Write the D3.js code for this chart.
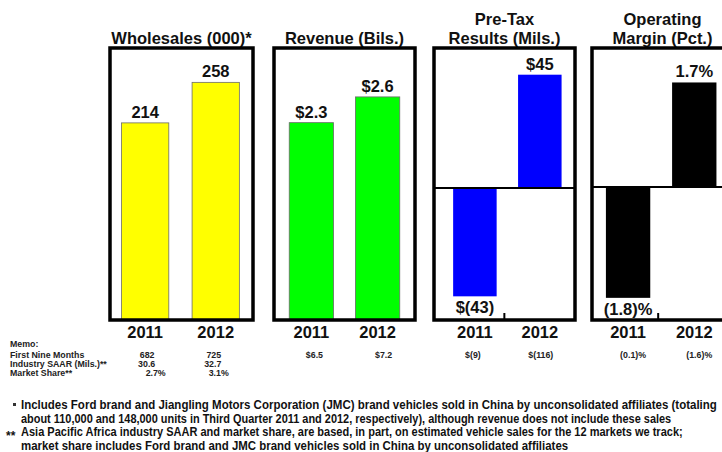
<!DOCTYPE html>
<html>
<head>
<meta charset="utf-8">
<script src="https://cdn.jsdelivr.net/npm/d3@7"></script>
<style>
  html, body { margin: 0; padding: 0; background: #fff; }
  svg { display: block; font-family: "Liberation Sans", Arial, sans-serif; }
</style>
</head>
<body>
<svg id="chart" width="722" height="452"></svg>
<script>
// ---------- data ----------
const years = ["2011", "2012"];

const wholesales = [214, 258];
const revenue = [2.3, 2.6];
const pretax = [-43, 45];
const margin = [-1.8, 1.7];

const wholesalesLabels = ["214", "258"];
const revenueLabels = ["$2.3", "$2.6"];
const pretaxLabels = ["$(43)", "$45"];
const marginLabels = ["(1.8)%", "1.7%"];

const titleWholesales = ["Wholesales (000)*"];
const titleRevenue = ["Revenue (Bils.)"];
const titlePretax = ["Pre-Tax", "Results (Mils.)"];
const titleMargin = ["Operating", "Margin (Pct.)"];

const memoRowLabels = ["First Nine Months", "Industry SAAR (Mils.)**", "Market Share**"];
const memoFirstNine = ["682", "725", "$6.5", "$7.2", "$(9)", "$(116)", "(0.1)%", "(1.6)%"];
const memoSAAR = ["30.6", "32.7"];
const memoShare = ["2.7%", "3.1%"];

const footnotes = [
  "Includes Ford brand and Jiangling Motors Corporation (JMC) brand vehicles sold in China by unconsolidated affiliates (totaling",
  "about 110,000 and 148,000 units in Third Quarter 2011 and 2012, respectively), although revenue does not include these sales",
  "Asia Pacific Africa industry SAAR  and market share, are based, in part, on estimated vehicle sales for the 12 markets we track;",
  "market share includes Ford brand and JMC brand vehicles sold in China by unconsolidated affiliates"
];

// ---------- layout ----------
const svg = d3.select("#chart");
const boxTop = 48, boxBottom = 320;

const panels = [
  { x: 110, w: 143, values: wholesales, labels: wholesalesLabels, title: titleWholesales,
    domain: [0, 295.3], color: "#ffff00", stroke: "#6b6b6b", pOut: 0.15, align: 0.45, zero: false, tick: false },
  { x: 274, w: 141, values: revenue, labels: revenueLabels, title: titleRevenue,
    domain: [0, 3.17], color: "#00ff00", stroke: "#6b6b6b", pOut: 0.2, align: 0.5, zero: false, tick: false },
  { x: 434, w: 141, values: pretax, labels: pretaxLabels, title: titlePretax,
    domain: [-52.4, 55.6], color: "#0000ff", stroke: "none", pOut: 0.22, align: 0.6, zero: true, tick: true },
  { x: 592, w: 141, values: margin, labels: marginLabels, title: titleMargin,
    domain: [-2.16, 2.26], color: "#000000", stroke: "none", pOut: 0.2, align: 0.45, zero: true, tick: true }
];

panels.forEach(p => {
  const g = svg.append("g");
  const x = d3.scaleBand().domain(years)
    .range([p.x + 2, p.x + p.w - 2]).paddingInner(0.33).paddingOuter(p.pOut).align(p.align);
  const y = d3.scaleLinear().domain(p.domain).range([boxBottom, boxTop]);
  p.xs = x;

  // title
  const cx = p.x + p.w / 2;
  const n = p.title.length;
  g.selectAll("text.title").data(p.title).join("text")
    .attr("class", "title")
    .attr("x", cx)
    .attr("y", (d, i) => 44 - (n - 1 - i) * 19)
    .attr("text-anchor", "middle")
    .attr("font-size", 16.5).attr("font-weight", "bold").attr("fill", "#111")
    .text(d => d);

  // bars
  const data = years.map((yr, i) => ({ yr, v: p.values[i], label: p.labels[i] }));
  g.selectAll("rect.bar").data(data).join("rect")
    .attr("class", "bar")
    .attr("x", d => x(d.yr))
    .attr("width", x.bandwidth())
    .attr("y", d => y(Math.max(0, d.v)))
    .attr("height", d => Math.abs(y(d.v) - y(0)))
    .attr("fill", p.color)
    .attr("stroke", p.stroke).attr("stroke-width", 0.8);

  // zero line
  if (p.zero) {
    g.append("line")
      .attr("x1", p.x).attr("x2", p.x + p.w)
      .attr("y1", y(0)).attr("y2", y(0))
      .attr("stroke", "#000").attr("stroke-width", 2);
  }

  // box
  g.append("rect")
    .attr("x", p.x).attr("y", boxTop)
    .attr("width", p.w).attr("height", boxBottom - boxTop)
    .attr("fill", "none").attr("stroke", "#000").attr("stroke-width", 3.5);

  // category separator tick
  if (p.tick) {
    const bx = x(years[1]) - x.step() * x.paddingInner() / 2 - 3;
    g.append("line")
      .attr("x1", bx).attr("x2", bx)
      .attr("y1", boxBottom).attr("y2", boxBottom - 7)
      .attr("stroke", "#000").attr("stroke-width", 2);
  }

  // value labels
  g.selectAll("text.val").data(data).join("text")
    .attr("class", "val")
    .attr("x", d => x(d.yr) + x.bandwidth() / 2)
    .attr("y", d => d.v >= 0 ? y(d.v) - 5 : y(d.v) + 17)
    .attr("text-anchor", "middle")
    .attr("font-size", 16.5).attr("font-weight", "bold").attr("fill", "#111")
    .text(d => d.label);

  // year labels
  g.selectAll("text.yr").data(years).join("text")
    .attr("class", "yr")
    .attr("x", d => x(d) + x.bandwidth() / 2)
    .attr("y", 338)
    .attr("text-anchor", "middle")
    .attr("font-size", 16.5).attr("font-weight", "bold").attr("fill", "#111")
    .text(d => d);
});

// ---------- memo ----------
const memoFs = 8.8, memoY0 = 357.5, memoDy = 9;
const memo = svg.append("g").attr("font-weight", "bold").attr("fill", "#222").attr("font-size", memoFs);
memo.append("text").attr("x", 10).attr("y", 347).text("Memo:");
memo.selectAll("text.rowlab").data(memoRowLabels).join("text")
  .attr("class", "rowlab").attr("x", 10).attr("y", (d, i) => memoY0 + i * memoDy).text(d => d);

const colCenters = [];
panels.forEach(p => years.forEach(yr => colCenters.push(p.xs(yr) + p.xs.bandwidth() / 2)));
const firstNineDx = [2, -2, 3, 6, -2, 1, 5, 5];

memo.selectAll("text.m1").data(memoFirstNine).join("text")
  .attr("class", "m1").attr("text-anchor", "middle")
  .attr("x", (d, i) => colCenters[i] + firstNineDx[i]).attr("y", memoY0).text(d => d);
memo.selectAll("text.m2").data(memoSAAR).join("text")
  .attr("class", "m2").attr("text-anchor", "middle")
  .attr("x", (d, i) => colCenters[i] + (i ? -3 : 1.5)).attr("y", memoY0 + memoDy).text(d => d);
memo.selectAll("text.m3").data(memoShare).join("text")
  .attr("class", "m3").attr("text-anchor", "middle")
  .attr("x", (d, i) => colCenters[i] + (i ? 3 : 10.5)).attr("y", memoY0 + 2 * memoDy).text(d => d);

// ---------- footnotes ----------
const fn = svg.append("g").attr("font-weight", "bold").attr("fill", "#111").attr("font-size", 12.5);
const fnWidths = [697, 651, 663, 548];
const fnLeft = 21;
fn.selectAll("text.fn").data(footnotes).join("text")
  .attr("class", "fn")
  .attr("x", 0)
  .attr("y", 0)
  .text(d => d)
  .each(function (d, i) {
    const natural = this.getComputedTextLength();
    const sx = fnWidths[i] / natural;
    d3.select(this).attr("transform",
      `translate(${fnLeft},${409 + i * 13.7}) scale(${sx},1)`);
  });
fn.append("rect").attr("x", 13).attr("y", 403).attr("width", 3).attr("height", 3).attr("fill", "#333");
fn.append("text").attr("x", 6).attr("y", 440).attr("font-size", 12).text("**");
</script>
</body>
</html>
